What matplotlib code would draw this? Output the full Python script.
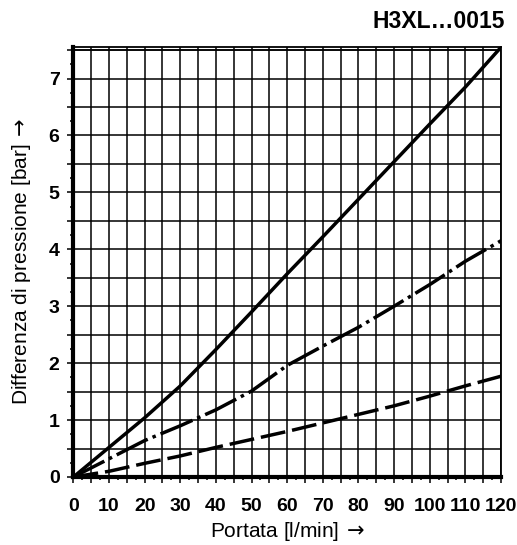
import numpy as np
import matplotlib
matplotlib.use("Agg")
import matplotlib.pyplot as plt
from matplotlib.ticker import MultipleLocator, FuncFormatter

# Portata [l/min]
portata = [0, 10, 20, 30, 40, 50, 60, 70, 80, 90, 100, 110, 120]
# Differenza di pressione [bar] for the three curves
dp_solid = [0, 0.52, 1.04, 1.60, 2.24, 2.90, 3.57, 4.22, 4.88, 5.54, 6.20, 6.85, 7.55]
dp_dashdot = [0, 0.32, 0.64, 0.90, 1.18, 1.51, 1.96, 2.30, 2.63, 3.00, 3.38, 3.79, 4.15]
dp_dashed = [0, 0.10, 0.24, 0.37, 0.52, 0.66, 0.80, 0.95, 1.10, 1.25, 1.42, 1.60, 1.77]

x_labels = [0, 10, 20, 30, 40, 50, 60, 70, 80, 90, 100, 110, 120]
y_labels = [0, 1, 2, 3, 4, 5, 6, 7]

text_font = ['Liberation Sans', 'DejaVu Sans']

fig = plt.figure(figsize=(5.17, 5.45), dpi=100)
ax = fig.add_axes([0.142, 0.1248, 0.827, 0.7895])

lw = 2.5
ax.plot(portata, dp_solid, color='black', lw=lw, solid_capstyle='butt', zorder=3)
ax.plot(portata, dp_dashdot, color='black', lw=lw, dashes=(10, 1.5, 1, 1.5),
        dash_capstyle='butt', zorder=3)
ax.plot(portata, dp_dashed, color='black', lw=lw, dashes=(7.2, 2),
        dash_capstyle='butt', zorder=3)

ax.set_xlim(0, 120)
ax.set_ylim(0, 7.56)

# grid every 5 l/min and every 0.5 bar, labels only on round values
ax.xaxis.set_major_locator(MultipleLocator(5))
ax.xaxis.set_minor_locator(MultipleLocator(2.5))
ax.yaxis.set_major_locator(MultipleLocator(0.5))
ax.yaxis.set_minor_locator(MultipleLocator(0.25))
ax.xaxis.set_major_formatter(FuncFormatter(
    lambda v, p: f"{int(round(v))}" if abs(v - round(v)) < 1e-6 and int(round(v)) in x_labels else ""))
ax.yaxis.set_major_formatter(FuncFormatter(
    lambda v, p: f"{int(round(v))}" if abs(v - round(v)) < 1e-6 and int(round(v)) in y_labels else ""))

ax.grid(which='major', color='black', lw=1.1)
ax.axhline(7.5, color='black', lw=1.1)
ax.tick_params(which='major', direction='out', length=4, width=1.1, color='black')
ax.tick_params(which='minor', direction='out', length=2.2, width=1.1, color='black')
ax.tick_params(axis='x', which='major', pad=11)
ax.tick_params(axis='y', which='major', pad=6)

for lab in ax.get_xticklabels() + ax.get_yticklabels():
    lab.set_family(text_font)
    lab.set_fontweight('bold')
    lab.set_fontsize(14)

for s in ['left', 'bottom']:
    ax.spines[s].set_linewidth(3)
for s in ['top', 'right']:
    ax.spines[s].set_linewidth(1.3)

ax.set_xlabel(r'Portata [l/min]$\,{\rightarrow}$', family=text_font, fontsize=15, labelpad=4)
ax.set_ylabel(r'Differenza di pressione [bar]$\,{\rightarrow}$', family=text_font,
              fontsize=15, labelpad=11)

fig.text(0.977, 0.96, 'H3XL…0015', family=text_font, fontsize=16.5, fontweight='bold',
         ha='right', va='center')

fig.savefig('out.png', dpi=100)
